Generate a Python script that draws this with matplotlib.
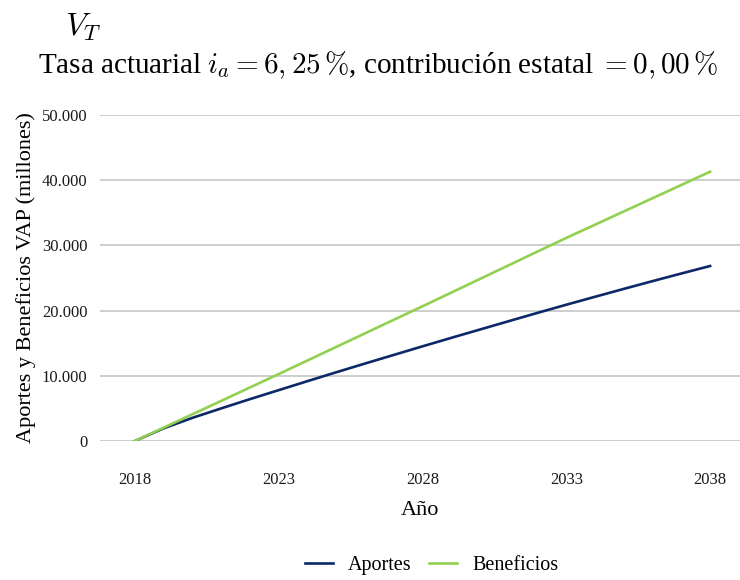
import matplotlib
matplotlib.use("Agg")
import matplotlib.pyplot as plt
from matplotlib.ticker import FuncFormatter, MultipleLocator

plt.rcParams['font.family'] = ['Liberation Serif', 'DejaVu Serif']
plt.rcParams['mathtext.fontset'] = 'cm'

# valor actual de aportes y beneficios, en millones
anios = list(range(2018, 2039))
aportes = [0, 1950, 3550, 5000, 6420, 7800, 9180, 10540, 11880, 13200, 14520,
           15820, 17100, 18380, 19650, 20900, 22120, 23330, 24520, 25690, 26840]
beneficios = [0, 2050, 4100, 6150, 8210, 10270, 12350, 14430, 16510, 18590, 20660,
              22760, 24860, 26960, 29060, 31150, 33180, 35210, 37240, 39270, 41300]
xticks = [2018, 2023, 2028, 2033, 2038]

fig = plt.figure(figsize=(7.4, 5.8), dpi=100)
ax = fig.add_axes([0.135, 0.2397, 0.865, 0.562])

ax.plot(anios, aportes, color='#0c2868', lw=1.9, label='Aportes')
ax.plot(anios, beneficios, color='#92d050', lw=1.9, label='Beneficios')

ax.set_xlim(2016.78, 2039.04)
ax.set_ylim(0, 50000)
ax.yaxis.set_major_locator(MultipleLocator(10000))
ax.yaxis.set_major_formatter(FuncFormatter(lambda v, p: f'{int(v):,}'.replace(',', '.')))
ax.set_xticks(xticks)
ax.grid(axis='y', color='#c6c6c6', lw=1.2)
ax.set_axisbelow(True)
for s in ax.spines.values():
    s.set_visible(False)
ax.tick_params(axis='both', length=0, labelsize=12, colors='#1a1a1a')
ax.tick_params(axis='x', pad=22)
ax.tick_params(axis='y', pad=9)

ax.set_xlabel('Año', fontsize=16, labelpad=10)
ax.set_ylabel('Aportes y Beneficios VAP (millones)', fontsize=16, labelpad=4)

fig.text(0.088, 0.953, r'$V_T$', fontsize=23, ha='left', va='center')
fig.text(0.511, 0.888,
         r'Tasa actuarial $i_a = 6,25\,\%$, contribución estatal $= 0,00\,\%$',
         fontsize=21, ha='center', va='center')

fig.legend(loc='center', bbox_to_anchor=(0.583, 0.025), ncol=2, frameon=False,
           fontsize=14.5, handlelength=1.4, handletextpad=0.75, columnspacing=0.85)

fig.savefig('out.png', dpi=100)
